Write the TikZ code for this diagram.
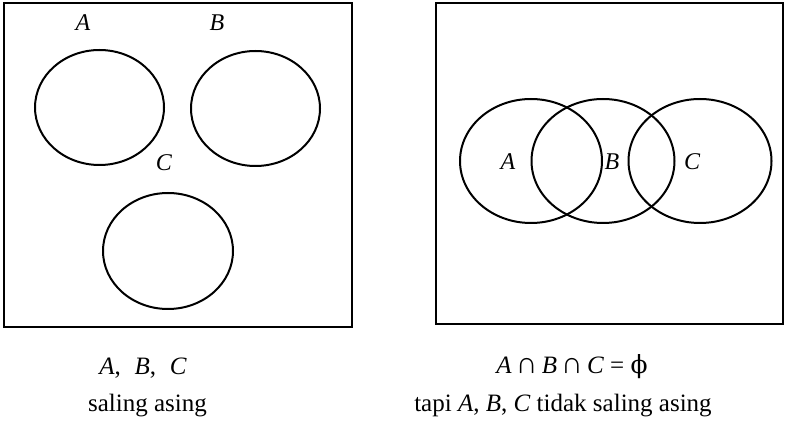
\documentclass[tikz,border=0pt]{standalone}
\usepackage{fontspec}
\setmainfont{Liberation Serif}
\newfontfamily\phifont{DejaVu Serif}
\usetikzlibrary{shapes.geometric}

\begin{document}
\begin{tikzpicture}[
  x=1pt, y={(0pt,-1pt)},
  univ/.style={draw=black, line width=1.9pt},
  setring/.style={draw=black, line width=2pt, ellipse, inner sep=0pt},
  setlab/.style={font=\fontsize{24}{26}\selectfont\itshape, inner sep=0pt},
  captxt/.style={font=\fontsize{25}{28}\selectfont, inner sep=0pt, anchor=base}
]
\useasboundingbox (0,0) rectangle (785,427);

% ================= DISJOINT SETS =================
\draw[univ] (4,3) rectangle (352,327);
\node[setring, minimum width=129pt, minimum height=115pt] (lA) at (99.5,107.5) {};
\node[setring, minimum width=129pt, minimum height=115pt] (lB) at (255.5,108.5) {};
\node[setring, minimum width=130pt, minimum height=116pt] (lC) at (168,251) {};
\node[setlab] (lAlab) at (83,23) {A};
\node[setlab] (lBlab) at (217,23) {B};
\node[setlab] (lClab) at (164,163) {C};

% ================= OVERLAPPING SETS =================
\draw[univ] (436,3) rectangle (783,324);
\node[setring, minimum width=142pt, minimum height=124pt] (rA) at (531,161) {};
\node[setring, minimum width=143pt, minimum height=124pt] (rB) at (603,161) {};
\node[setring, minimum width=143pt, minimum height=124pt] (rC) at (700,161) {};
\node[setlab] (rAlab) at (508,162) {A};
\node[setlab] (rBlab) at (612,162) {B};
\node[setlab] (rClab) at (692,162) {C};

% ================= CAPTIONS =================
\node[captxt] (capL1) at (143,375)
  {\textit{A},\hspace{0.55em}\textit{B},\hspace{0.55em}\textit{C}};
\node[captxt] (capL2) at (147.5,412) {saling asing};
\node[captxt] (capR1) at (572,374)
  {\textit{A}\,{\fontsize{30}{30}\selectfont ∩}\,\textit{B}\,{\fontsize{30}{30}\selectfont ∩}\,\textit{C} = {\phifont ϕ}};
\node[captxt] (capR2) at (563,412) {tapi \textit{A}, \textit{B}, \textit{C} tidak saling asing};
\end{tikzpicture}
\end{document}
